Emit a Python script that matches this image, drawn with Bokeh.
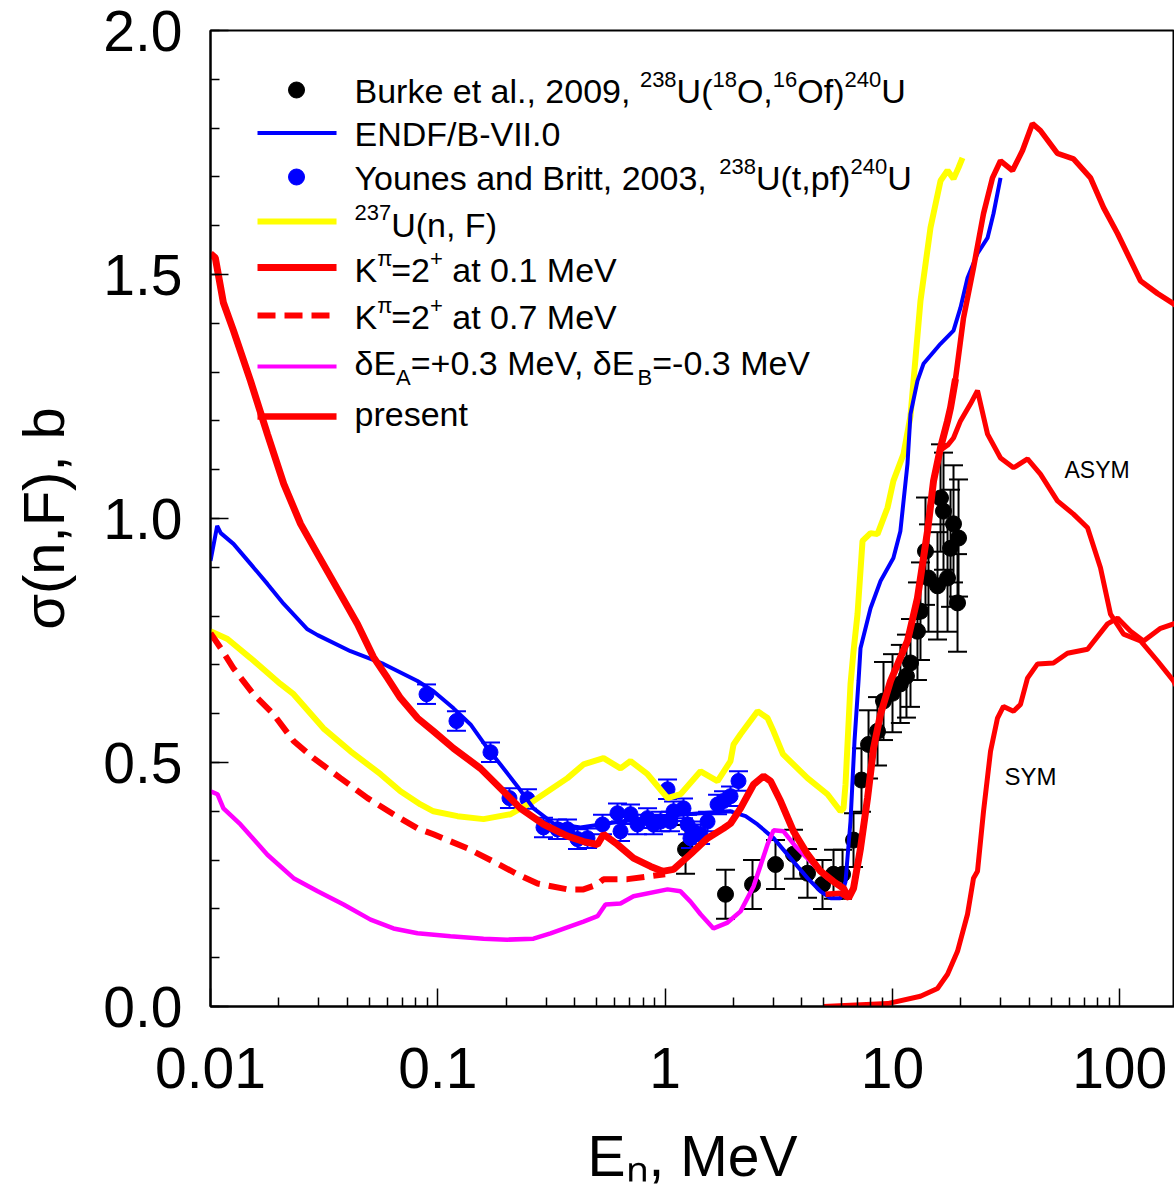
import math
from bokeh.plotting import figure
from bokeh.models import Range1d, FixedTicker, CustomJSTickFormatter, PrintfTickFormatter, Label
from bokeh.embed import file_html
from bokeh.resources import INLINE

# ---------------- data ----------------
burke_E = [1.230, 1.844, 2.424, 3.06, 3.672, 4.232, 4.926, 5.507, 6.034, 6.744, 7.312, 7.852,
           8.600, 9.138, 10.01, 10.84, 11.53, 12.01, 12.89, 13.29, 13.98, 14.41, 15.79, 16.28,
           16.78, 17.48, 18.02, 18.57, 19.54, 19.34]
burke_sig = [0.322, 0.230, 0.250, 0.291, 0.312, 0.273, 0.250, 0.271, 0.271, 0.341, 0.464, 0.537,
             0.564, 0.626, 0.642, 0.661, 0.677, 0.704, 0.769, 0.810, 0.933, 0.878, 0.862, 1.042,
             1.015, 0.878, 0.939, 0.989, 0.960, 0.827]
burke_err = [0.05, 0.05, 0.05, 0.05, 0.05, 0.05, 0.05, 0.05, 0.05, 0.055, 0.065, 0.07,
             0.07, 0.08, 0.08, 0.08, 0.085, 0.09, 0.1, 0.1, 0.11, 0.11, 0.11, 0.11,
             0.12, 0.11, 0.12, 0.12, 0.12, 0.1]

younes_E = [0.0892, 0.1208, 0.1705, 0.2067, 0.248, 0.2917, 0.3362, 0.372, 0.4117, 0.4557, 0.5304,
            0.6173, 0.6366, 0.7045, 0.7561, 0.837, 0.889, 0.955, 1.025, 1.056, 1.089, 1.205,
            1.255, 1.293, 1.333, 1.432, 1.537, 1.701, 1.807, 1.94, 2.103]
younes_sig = [0.640, 0.585, 0.521, 0.427, 0.425, 0.367, 0.363, 0.363, 0.343, 0.345, 0.373,
              0.396, 0.359, 0.394, 0.373, 0.386, 0.373, 0.379, 0.445, 0.379, 0.400, 0.406,
              0.373, 0.345, 0.359, 0.353, 0.379, 0.414, 0.421, 0.431, 0.462]
younes_err = [0.02] * 31

endf_E = [0.0100, 0.0107, 0.0111, 0.01262, 0.0150, 0.0178, 0.0210, 0.0267, 0.0296, 0.0413, 0.0577,
          0.0814, 0.0957, 0.1173, 0.1393, 0.1655, 0.1887, 0.2242, 0.2636, 0.3228, 0.4244, 0.637,
          0.955, 1.432, 1.94, 2.26, 2.551, 3.0, 3.563, 4.232, 4.829, 5.343, 5.91, 6.219, 6.542,
          6.812, 7.094, 7.238, 8.012, 8.867, 10.10, 10.84, 11.65, 12.01, 12.89, 13.70, 16.28,
          18.57, 19.93, 21.4, 23.68, 26.21, 27.85, 29.9]
endf_sig = [0.913, 0.985, 0.970, 0.948, 0.907, 0.866, 0.825, 0.773, 0.761, 0.728, 0.702,
            0.667, 0.646, 0.611, 0.578, 0.529, 0.496, 0.451, 0.406, 0.375, 0.367, 0.379,
            0.390, 0.396, 0.400, 0.390, 0.373, 0.345, 0.304, 0.263, 0.236, 0.222, 0.222, 0.256, 0.380,
            0.544, 0.667, 0.734, 0.816, 0.872, 0.919, 0.974, 1.112, 1.214, 1.282, 1.317, 1.358,
            1.385, 1.432, 1.493, 1.543, 1.575, 1.625, 1.698]

u237_E = [0.0100, 0.01188, 0.0150, 0.0203, 0.0232, 0.0314, 0.0413, 0.056, 0.0685, 0.0839, 0.0957,
          0.1221, 0.1589, 0.2089, 0.2636, 0.372, 0.4375, 0.536, 0.6366, 0.7045, 0.837, 1.025,
          1.169, 1.432, 1.701, 1.94, 2.0, 2.147, 2.551, 2.822, 3.0, 3.299, 4.232, 5.18, 5.91,
          6.095, 6.219, 6.542, 6.744, 7.023, 7.388, 8.012, 8.600, 9.515, 10.10, 11.19, 12.01,
          13.29, 14.71, 16.28, 17.48, 18.57, 19.54, 20.34]
u237_sig = [0.769, 0.753, 0.714, 0.661, 0.640, 0.570, 0.523, 0.476, 0.441, 0.414, 0.400,
            0.390, 0.384, 0.394, 0.421, 0.468, 0.496, 0.509, 0.488, 0.503, 0.476, 0.427,
            0.435, 0.482, 0.462, 0.503, 0.537, 0.558, 0.605, 0.591, 0.564, 0.517, 0.468, 0.435, 0.400,
            0.406, 0.455, 0.661, 0.728, 0.804, 0.954, 0.970, 0.968, 1.022, 1.077, 1.132, 1.210,
            1.446, 1.596, 1.692, 1.713, 1.696, 1.719, 1.739]

k01_E = [0.0100, 0.0105, 0.0114, 0.01262, 0.0150, 0.0178, 0.0210, 0.0249, 0.0296, 0.0373, 0.0443,
         0.0521, 0.0601, 0.0685, 0.0814, 0.0957, 0.1173, 0.154, 0.1887, 0.231, 0.292, 0.372,
         0.4375, 0.504, 0.536, 0.617, 0.726, 0.863, 0.974, 1.089, 1.293, 1.537, 1.807, 1.94,
         2.147, 2.449, 2.71, 2.91, 3.22, 3.672, 4.232, 4.829, 5.507, 6.095, 6.411, 6.744, 7.238,
         7.773, 8.259, 8.867, 9.81, 11.65, 12.89, 14.27, 15.17, 16.28, 17.48, 18.02, 18.95]
k01_sig = [1.543, 1.534, 1.442, 1.385, 1.282, 1.173, 1.071, 0.989, 0.927, 0.845, 0.784,
           0.716, 0.673, 0.632, 0.591, 0.564, 0.529, 0.488, 0.447, 0.406, 0.373, 0.349,
           0.338, 0.332, 0.353, 0.332, 0.304, 0.287, 0.277, 0.281, 0.312, 0.345, 0.365, 0.375,
           0.406, 0.455, 0.472, 0.462, 0.421, 0.359, 0.312, 0.277, 0.256, 0.242, 0.222, 0.242, 0.324,
           0.427, 0.529, 0.599, 0.667, 0.749, 0.837, 0.974, 1.077, 1.145, 1.200, 1.227, 1.286]

k07_E = [0.0100, 0.0111, 0.01262, 0.01546, 0.01893, 0.0232, 0.0284, 0.0373, 0.0491, 0.0638, 0.0814,
         0.0957, 0.1351, 0.1758, 0.2242, 0.2746, 0.372, 0.4375, 0.504, 0.536, 0.6834, 0.863, 1.0]
k07_sig = [0.765, 0.734, 0.693, 0.640, 0.599, 0.544, 0.509, 0.468, 0.427, 0.394, 0.365,
           0.353, 0.324, 0.297, 0.271, 0.252, 0.240, 0.240, 0.250, 0.261, 0.261, 0.267, 0.271]

de_E = [0.0100, 0.01073, 0.0114, 0.01355, 0.0178, 0.0232, 0.0296, 0.0385, 0.0506, 0.0638, 0.0814,
        0.1137, 0.1589, 0.2025, 0.2636, 0.3132, 0.4375, 0.504, 0.5468, 0.6366, 0.726, 1.025,
        1.169, 1.293, 1.432, 1.633, 1.882, 2.147, 2.449, 2.822, 3.0, 3.319, 3.747, 4.497, 5.18,
        5.91, 6.095]
de_sig = [0.441, 0.435, 0.406, 0.373, 0.311, 0.263, 0.236, 0.209, 0.178, 0.160, 0.150,
          0.144, 0.139, 0.137, 0.139, 0.150, 0.174, 0.185, 0.209, 0.211, 0.226, 0.240,
          0.236, 0.215, 0.189, 0.160, 0.172, 0.195, 0.246, 0.332, 0.361, 0.359, 0.328, 0.291, 0.263,
          0.246, 0.240]

present_E = [5.08, 5.91, 6.411, 6.744, 7.238, 7.773, 8.259, 8.867, 9.81, 11.65, 12.89, 14.27, 15.17,
             16.28, 17.48, 18.02, 18.95, 20.55, 22.74, 25.17, 27.56, 29.9, 33.76, 37.36, 41.3,
             44.8, 53.2, 62.6, 74.4, 84.9, 97.8, 123.5, 146.7, 172.5, 185.0]
present_sig = [0.230, 0.232, 0.222, 0.242, 0.324, 0.427, 0.529, 0.599, 0.667, 0.749, 0.837, 0.974, 1.077,
               1.145, 1.200, 1.227, 1.286, 1.411, 1.514, 1.625, 1.698, 1.733, 1.713, 1.754, 1.809,
               1.795, 1.748, 1.737, 1.698, 1.637, 1.584, 1.487, 1.461, 1.440, 1.430]

asym_E = [6.411, 6.744, 7.238, 7.773, 8.259, 8.867, 9.81, 11.65, 12.89, 14.27, 15.17, 16.28, 17.48,
          18.57, 19.93, 22.06, 23.68, 26.21, 29.9, 34.1, 39.3, 44.8, 53.2, 62.6, 72.2, 82.3, 91.1,
          104.0, 123.5, 146.7, 172.5, 185.0]
asym_sig = [0.222, 0.242, 0.324, 0.427, 0.529, 0.599, 0.667, 0.749, 0.837, 0.974, 1.077, 1.140, 1.150,
            1.165, 1.200, 1.235, 1.262, 1.173, 1.124, 1.104, 1.122, 1.091, 1.036, 1.009, 0.981, 0.899,
            0.804, 0.763, 0.749, 0.708, 0.667, 0.640]

sym_E = [4.98, 9.515, 13.29, 15.79, 17.48, 19.34, 21.4, 22.74, 23.68, 25.17, 27.02, 29.0, 30.8, 34.1,
         36.6, 39.3, 43.5, 51.1, 58.9, 72.2, 88.4, 97.8, 111.6, 127.3, 151.2, 172.5, 185.0]
sym_sig = [0.0, 0.006, 0.021, 0.037, 0.066, 0.113, 0.189, 0.263, 0.277, 0.400, 0.523, 0.591, 0.615,
           0.605, 0.619, 0.673, 0.702, 0.704, 0.724, 0.732, 0.784, 0.796, 0.769, 0.749, 0.775,
           0.784, 0.790]

x_major = [0.01, 0.1, 1, 10, 100]
y_major = [0.0, 0.5, 1.0, 1.5, 2.0]

RED, BLUE, YELLOW, MAGENTA = "#ff0000", "#0000ff", "#ffff00", "#ff00ff"
FONT = "Liberation Sans"

# ---------------- figure ----------------
p = figure(width=1174, height=1197, x_axis_type="log",
           x_range=Range1d(0.01, 174.2), y_range=Range1d(0.0, 2.0),
           output_backend="svg", toolbar_location=None, title=None,
           min_border_left=210, min_border_right=0, min_border_top=30, min_border_bottom=191)
p.background_fill_color = "white"
p.border_fill_color = "white"
p.outline_line_color = "black"
p.outline_line_width = 2
p.xgrid.visible = False
p.ygrid.visible = False

minor_x = [m * 10.0 ** d for d in range(-2, 3) for m in range(2, 10)]
p.xaxis.ticker = FixedTicker(ticks=x_major, minor_ticks=minor_x)
p.xaxis.formatter = CustomJSTickFormatter(code="return tick >= 1 ? tick.toFixed(0) : tick.toString();")
p.yaxis.ticker = FixedTicker(ticks=y_major, minor_ticks=[i / 10 for i in range(0, 21)])
p.yaxis.formatter = PrintfTickFormatter(format="%.1f")
for ax in (p.xaxis[0], p.yaxis[0]):
    ax.axis_line_width = 2
    ax.axis_line_color = "black"
    ax.major_tick_in = 18
    ax.major_tick_out = 0
    ax.minor_tick_in = 9
    ax.minor_tick_out = 0
    ax.major_tick_line_width = 1.5
    ax.minor_tick_line_width = 1.5
    ax.major_tick_line_color = "black"
    ax.minor_tick_line_color = "black"
    ax.major_label_text_font = FONT
    ax.major_label_text_font_size = "57px"
    ax.major_label_text_color = "black"
    ax.axis_label_text_font = FONT
    ax.axis_label_text_font_style = "normal"
    ax.axis_label_text_color = "black"
p.xaxis.major_label_standoff = 41
p.yaxis.major_label_standoff = 28
p.xaxis.axis_label = "E\u2099, MeV"
p.xaxis.axis_label_text_font_size = "57px"
p.xaxis.axis_label_standoff = 33
p.yaxis.axis_label = "σ(n,F), b"
p.yaxis.axis_label_text_font_size = "58px"
p.yaxis.axis_label_standoff = 24

# ---------------- data marks ----------------
def err_bars(E, s, e, color, cap):
    lo = [a - b for a, b in zip(s, e)]
    hi = [a + b for a, b in zip(s, e)]
    p.segment(x0=E, y0=lo, x1=E, y1=hi, line_color=color, line_width=2)
    p.scatter(E, lo, marker="dash", size=cap, line_color=color, line_width=2)
    p.scatter(E, hi, marker="dash", size=cap, line_color=color, line_width=2)

err_bars(burke_E, burke_sig, burke_err, "black", 19)
p.scatter(burke_E, burke_sig, size=16, fill_color="black", line_color="black")
err_bars(younes_E, younes_sig, younes_err, BLUE, 19)
p.scatter(younes_E, younes_sig, size=15, fill_color=BLUE, line_color=BLUE)

p.line(u237_E, u237_sig, line_color=YELLOW, line_width=6)
p.line(endf_E, endf_sig, line_color=BLUE, line_width=4)
p.line(de_E, de_sig, line_color=MAGENTA, line_width=4.5)
p.line(k07_E, k07_sig, line_color=RED, line_width=6, line_dash="18 9")
p.line(sym_E, sym_sig, line_color=RED, line_width=5)
p.line(asym_E, asym_sig, line_color=RED, line_width=5)
p.line(present_E, present_sig, line_color=RED, line_width=5.5)
p.line(k01_E, k01_sig, line_color=RED, line_width=7)

# ---------------- legend & labels (layout in page pixels) ----------------
FX0, FY0, DEC = 210.0, 1006.0, 227.25   # frame left, frame bottom, px per decade
BASE_K = 0.35                           # baseline correction (fraction of font size)
def sx(X): return X - FX0
def sy(Y): return FY0 - Y
def dx(X): return 10 ** ((X - FX0) / DEC - 2)
def dy(Y): return (FY0 - Y) / 488.0

W = {' ': 278, ',': 278, '.': 278, '(': 333, ')': 333, '/': 278, '-': 333, '+': 584, '=': 584,
     'A': 667, 'B': 667, 'D': 722, 'E': 667, 'F': 611, 'I': 278, 'K': 667, 'M': 833, 'N': 722,
     'O': 778, 'S': 667, 'U': 722, 'V': 667, 'Y': 667, 'a': 556, 'b': 556, 'd': 556, 'e': 556,
     'f': 278, 'i': 222, 'k': 500, 'l': 222, 'n': 556, 'o': 556, 'p': 556, 'r': 333, 's': 500,
     't': 278, 'u': 556, 'v': 500, 'y': 500, 'π': 640, 'δ': 556, 'σ': 617}
def tw(s, fs): return sum(W.get(c, 556) for c in s) * fs / 1000.0

def put(X, base, txt, fs):
    p.add_layout(Label(x=sx(X), y=sy(base - BASE_K * fs), x_units="screen", y_units="screen",
                       text=txt, text_font=FONT, text_font_size=f"{fs}px",
                       text_baseline="alphabetic", text_align="left", text_color="black"))

def rich(x0, base, segs, fs=34, sfs=22, up=16, down=11):
    x = x0
    for txt, kind in segs:
        f = fs if kind == "n" else sfs
        off = 0 if kind == "n" else (-up if kind == "sup" else down)
        lead = len(txt) - len(txt.lstrip(" "))
        x += tw(" " * lead, f)
        body = txt.strip(" ")
        put(x, base + off, body, f)
        x += tw(txt.lstrip(" "), f)

put(1064, 477.5, "ASYM", 23)
put(1004, 784.0, "SYM", 24)

LX0, LX1, MX, TX = 257, 336, 296, 354
p.scatter([dx(MX)], [dy(89.5)], size=16, fill_color="black", line_color="black")
p.scatter([dx(MX)], [dy(176.5)], size=16, fill_color=BLUE, line_color=BLUE)
for yy, col, lw, dash in [(132.5, BLUE, 4, "solid"), (221, YELLOW, 6, "solid"), (267, RED, 7, "solid"),
                          (315, RED, 6, "18 9"), (366, MAGENTA, 4, "solid"), (416, RED, 6.5, "solid")]:
    p.line([dx(LX0), dx(LX1)], [dy(yy), dy(yy)], line_color=col, line_width=lw, line_dash=dash)

rich(TX, 102.5, [("Burke et al., 2009, ", "n"), ("238", "sup"), ("U(", "n"), ("18", "sup"), ("O,", "n"),
                 ("16", "sup"), ("Of)", "n"), ("240", "sup"), ("U", "n")])
rich(TX, 145.5, [("ENDF/B-VII.0", "n")])
rich(TX, 189.5, [("Younes and Britt, 2003, ", "n"), ("238", "sup"), ("U(t,pf)", "n"), ("240", "sup"), ("U", "n")])
rich(TX, 236.0, [("237", "sup"), ("U(n, F)", "n")])
rich(TX, 281.5, [("K", "n"), ("π", "sup"), ("=2", "n"), ("+", "sup"), (" at 0.1 MeV", "n")])
rich(TX, 328.5, [("K", "n"), ("π", "sup"), ("=2", "n"), ("+", "sup"), (" at 0.7 MeV", "n")])
rich(TX, 374.0, [("δE", "n"), ("A", "sub"), ("=+0.3 MeV, δE", "n"), ("B", "sub"), ("=-0.3 MeV", "n")])
rich(TX, 425.0, [("present", "n")])

open("out.html", "w").write(file_html(p, INLINE))
